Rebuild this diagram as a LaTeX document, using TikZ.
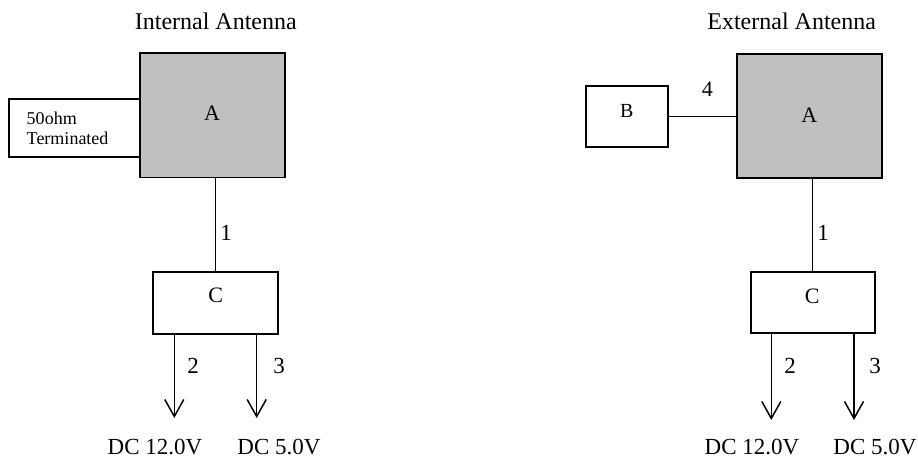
\documentclass[tikz,border=0pt]{standalone}
\usepackage{fontspec}
\setmainfont{Liberation Serif}
\usetikzlibrary{arrows.meta}
\begin{document}
\begin{tikzpicture}[x=1pt,y=-1pt,
  box/.style={draw=black, line width=1.8pt, inner sep=0pt, outer sep=0pt},
  gbox/.style={box, fill={rgb,255:red,192;green,192;blue,192}},
  conn/.style={line width=1.5pt},
  arr/.style={line width=1.5pt, -{Straight Barb[length=17pt,width=19pt,line width=1.5pt]}},
  txt/.style={inner sep=0pt, font=\fontsize{23}{26}\selectfont},
  title/.style={inner sep=0pt, font=\fontsize{24}{28}\selectfont},
  lbl/.style={inner sep=0pt, font=\fontsize{22}{26}\selectfont}]
\useasboundingbox (0,0) rectangle (918,459);

% ---------- Internal Antenna ----------
\node[title] (t1) at (215.8,21) {Internal Antenna};
\node[gbox, minimum width=145.3pt, minimum height=124.2pt] (lA) at (212.7,115.4) {};
\node[box, minimum width=130.7pt, minimum height=58.6pt, text width=95.9pt, inner xsep=17.4pt, align=left,
      font=\fontsize{18}{20}\selectfont] (term) at (74.7,128) {50ohm\\Terminated};
\node[lbl] (lAt) at (212,113) {A};
\node[box, minimum width=124.4pt, minimum height=61.7pt] (lC) at (215.5,303.2) {};
\node[lbl] (lCt) at (215.7,295) {C};
\draw[conn] (lC.north |- lA.south) -- (lC.north);
\node[txt] (l1) at (226,233) {1};
\coordinate (l2e) at (174.3,418);
\coordinate (l3e) at (256.7,418);
\draw[arr] (l2e |- lC.south) -- (l2e);
\draw[arr] (l3e |- lC.south) -- (l3e);
\node[txt] (l2) at (193,366) {2};
\node[txt] (l3) at (279,366) {3};
\node[txt] (ldc12) at (155,447) {DC 12.0V};
\node[txt] (ldc5) at (279,447) {DC 5.0V};

% ---------- External Antenna ----------
\node[title] (t2) at (791.7,21) {External Antenna};
\node[gbox, minimum width=144.4pt, minimum height=123.7pt] (rA) at (809.5,115.8) {};
\node[lbl] (rAt) at (809.3,115) {A};
\node[box, minimum width=82pt, minimum height=61pt] (rB) at (626.7,116.5) {};
\node[lbl, font=\fontsize{20}{24}\selectfont] (rBt) at (626.7,110.7) {B};
\draw[conn] (rB.east) -- (rB.east -| rA.west);
\node[lbl] (r4) at (707.3,89) {4};
\node[box, minimum width=124pt, minimum height=61.3pt] (rC) at (812.7,302.7) {};
\node[lbl] (rCt) at (812.3,296.7) {C};
\draw[conn] (rC.north |- rA.south) -- (rC.north);
\node[txt] (r1) at (823,233) {1};
\coordinate (r2e) at (771.3,420);
\coordinate (r3e) at (854,420);
\draw[arr] (r2e |- rC.south) -- (r2e);
\draw[arr] (r3e |- rC.south) -- (r3e);
\node[txt] (r2) at (790,366) {2};
\node[txt] (r3) at (875,366) {3};
\node[txt] (rdc12) at (752,447) {DC 12.0V};
\node[txt] (rdc5) at (875,447) {DC 5.0V};
\end{tikzpicture}
\end{document}
